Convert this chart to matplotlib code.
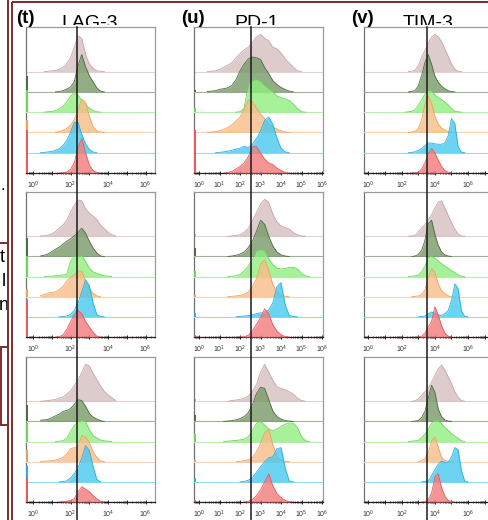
import numpy as np
import matplotlib
matplotlib.use('Agg')
import matplotlib.pyplot as plt
from matplotlib.lines import Line2D
from matplotlib.ticker import FixedLocator, FuncFormatter, NullFormatter
from matplotlib.transforms import Bbox, TransformedBbox, blended_transform_factory

plt.rcParams['font.family'] = ['Liberation Sans', 'DejaVu Sans']
plt.rcParams['mathtext.fontset'] = 'custom'
plt.rcParams['mathtext.rm'] = 'Liberation Sans'

W, H = 488, 520

# stacked histograms, listed top -> bottom
FILL_COLORS = ['#d6bec0', '#789a68', '#90ee80', '#f8bc88', '#48c8f0', '#f27a7a']
LINE_COLORS = ['#c6a5a8', '#4b6b3f', '#6ad65a', '#f0a060', '#28aee0', '#e85a5a']
BASE_COLORS = ['#e2d2d2', '#a3b09a', '#b4f0aa', '#f8d2b4', '#94dcf4', '#e85a5a']

MARKERS = ['LAG-3', 'PD-1', 'TIM-3']
LETTERS = ['(t)', '(u)', '(v)']
GATE_LOG = [2.34, 2.53, 3.54]   # log10 position of the vertical reference line

# bin centres, log10 of fluorescence
BINS_LAG3 = [0.4, 0.6, 0.8, 1.0, 1.2, 1.4, 1.6, 1.8, 2.0, 2.2, 2.4, 2.6, 2.8, 3.0,
             3.2, 3.4, 3.6, 3.8, 4.0, 4.2, 4.4]
BINS_PD1 = [0.4, 0.6, 0.8, 1.0, 1.2, 1.4, 1.6, 1.8, 2.0, 2.2, 2.4, 2.6, 2.8, 3.0,
            3.2, 3.4, 3.6, 3.8, 4.0, 4.2, 4.4, 4.6, 4.8, 5.0, 5.2, 5.4]
BINS_TIM3 = [2.2, 2.4, 2.6, 2.8, 3.0, 3.2, 3.4, 3.6, 3.8, 4.0, 4.2, 4.4, 4.6, 4.8,
             5.0, 5.2, 5.4, 5.6, 5.8, 6.0, 6.2]

# % of mode per bin, one list per histogram (top -> bottom)
LAG3_1 = [
    [0, 0, 1, 2, 3, 6, 10, 20, 34, 60, 88, 82, 42, 19, 8, 2, 1, 0, 0, 0, 0],
    [0, 0, 0, 0, 0, 1, 3, 7, 12, 25, 65, 92, 62, 40, 25, 10, 2, 0, 0, 0, 0],
    [0, 0, 1, 2, 4, 8, 15, 26, 39, 49, 42, 28, 18, 10, 4, 1, 0, 0, 0, 0, 0],
    [0, 0, 0, 0, 0, 2, 5, 10, 18, 32, 55, 82, 75, 40, 15, 4, 1, 0, 0, 0, 0],
    [0, 1, 2, 3, 6, 10, 18, 30, 50, 75, 75, 45, 22, 8, 2, 0, 0, 0, 0, 0, 0],
    [0, 0, 0, 0, 0, 0, 1, 2, 9, 25, 62, 85, 50, 20, 6, 1, 0, 0, 0, 0, 0],
]
LAG3_2 = [
    [1, 1, 3, 6, 12, 20, 28, 40, 60, 78, 90, 88, 68, 58, 50, 42, 28, 19, 10, 4, 1],
    [1, 3, 6, 12, 18, 23, 31, 38, 44, 51, 60, 70, 58, 38, 21, 9, 1, 0, 0, 0, 0],
    [0, 0, 1, 1, 2, 3, 4, 6, 38, 50, 51, 52, 38, 21, 12, 8, 5, 2, 1, 0, 0],
    [2, 6, 9, 11, 12, 18, 25, 39, 49, 54, 65, 62, 40, 20, 9, 2, 0, 0, 0, 0, 0],
    [0, 0, 0, 0, 0, 0, 1, 2, 6, 16, 35, 62, 92, 78, 35, 6, 1, 0, 0, 0, 0],
    [0, 0, 0, 0, 0, 1, 5, 19, 38, 55, 66, 58, 39, 25, 12, 2, 0, 0, 0, 0, 0],
]
LAG3_3 = [
    [0, 1, 2, 3, 5, 8, 11, 18, 26, 39, 52, 72, 92, 88, 69, 54, 38, 25, 16, 9, 2],
    [3, 4, 5, 9, 14, 18, 25, 27, 32, 42, 54, 52, 38, 20, 11, 6, 2, 0, 0, 0, 0],
    [0, 0, 0, 0, 0, 1, 2, 9, 25, 40, 50, 53, 49, 30, 15, 9, 4, 2, 1, 0, 0],
    [1, 1, 2, 3, 4, 7, 11, 19, 32, 35, 38, 65, 61, 48, 25, 11, 2, 0, 0, 0, 0],
    [0, 0, 0, 0, 0, 0, 1, 2, 10, 20, 35, 59, 90, 78, 39, 6, 0, 0, 0, 0, 0],
    [0, 0, 0, 0, 0, 0, 1, 2, 4, 8, 25, 38, 32, 26, 16, 8, 2, 0, 0, 0, 0],
]

PD1_1 = [
    [0, 1, 2, 5, 11, 16, 22, 34, 44, 54, 60, 72, 86, 92, 82, 76, 60, 56, 46, 32, 21, 11, 2, 0, 0, 0],
    [1, 2, 3, 6, 8, 10, 16, 30, 52, 69, 81, 86, 84, 80, 60, 45, 28, 18, 11, 6, 2, 0, 0, 0, 0, 0],
    [0, 0, 0, 0, 0, 0, 0, 0, 1, 10, 68, 78, 81, 76, 66, 58, 50, 40, 36, 33, 29, 20, 9, 1, 0, 0],
    [0, 1, 2, 4, 8, 12, 19, 28, 38, 58, 80, 75, 61, 46, 34, 21, 14, 8, 4, 1, 0, 0, 0, 0, 0, 0],
    [0, 0, 0, 1, 2, 4, 6, 9, 11, 16, 12, 21, 35, 54, 80, 88, 70, 36, 11, 2, 0, 0, 0, 0, 0, 0],
    [0, 0, 0, 0, 0, 1, 4, 10, 16, 25, 40, 65, 65, 49, 34, 25, 21, 12, 6, 2, 0, 0, 0, 0, 0, 0],
]
PD1_2 = [
    [0, 0, 0, 0, 0, 0, 1, 2, 4, 10, 20, 38, 59, 80, 92, 84, 55, 35, 26, 22, 18, 9, 4, 1, 0, 0],
    [0, 0, 0, 0, 0, 0, 1, 3, 6, 11, 22, 38, 62, 90, 80, 50, 26, 11, 4, 1, 0, 0, 0, 0, 0, 0],
    [0, 0, 0, 0, 0, 0, 1, 2, 5, 14, 26, 42, 64, 67, 64, 44, 30, 21, 19, 20, 23, 23, 19, 8, 2, 0],
    [0, 0, 0, 0, 0, 0, 1, 2, 3, 6, 12, 24, 45, 80, 91, 65, 30, 12, 5, 1, 0, 0, 0, 0, 0, 0],
    [0, 0, 0, 0, 0, 0, 0, 0, 1, 2, 3, 5, 8, 10, 9, 17, 35, 75, 85, 30, 4, 1, 0, 0, 0, 0],
    [0, 0, 0, 0, 0, 0, 0, 0, 0, 1, 4, 15, 31, 48, 70, 58, 30, 15, 6, 1, 0, 0, 0, 0, 0, 0],
]
PD1_3 = [
    [0, 0, 0, 0, 0, 0, 2, 3, 5, 8, 13, 24, 42, 72, 92, 72, 52, 36, 32, 29, 24, 18, 8, 2, 0, 0],
    [0, 0, 0, 0, 0, 1, 2, 4, 7, 12, 22, 41, 69, 85, 82, 54, 26, 12, 6, 2, 1, 0, 0, 0, 0, 0],
    [0, 0, 0, 0, 0, 1, 2, 3, 4, 6, 12, 28, 45, 50, 41, 31, 27, 31, 38, 43, 46, 46, 35, 12, 2, 0],
    [0, 0, 0, 0, 0, 0, 0, 0, 1, 2, 5, 10, 25, 45, 72, 81, 43, 14, 4, 1, 0, 0, 0, 0, 0, 0],
    [0, 0, 0, 0, 0, 0, 0, 0, 0, 1, 4, 10, 24, 38, 50, 60, 62, 82, 85, 35, 2, 0, 0, 0, 0, 0],
    [0, 0, 0, 0, 0, 0, 0, 0, 0, 0, 2, 6, 16, 30, 50, 70, 40, 21, 11, 4, 1, 0, 0, 0, 0, 0],
]

TIM3_1 = [
    [0, 0, 1, 3, 15, 35, 52, 70, 85, 92, 86, 74, 56, 38, 19, 6, 1, 0, 0, 0, 0],
    [0, 0, 1, 3, 15, 40, 73, 92, 68, 39, 24, 14, 8, 3, 1, 0, 0, 0, 0, 0, 0],
    [0, 1, 2, 6, 17, 30, 44, 55, 52, 42, 36, 31, 25, 18, 9, 2, 1, 0, 0, 0, 0],
    [0, 0, 1, 3, 10, 30, 70, 91, 72, 40, 21, 11, 6, 2, 0, 0, 0, 0, 0, 0, 0],
    [0, 0, 1, 2, 6, 10, 18, 24, 24, 22, 21, 21, 24, 42, 84, 72, 15, 1, 0, 0, 0],
    [0, 0, 0, 1, 2, 10, 25, 46, 61, 49, 32, 16, 6, 2, 0, 0, 0, 0, 0, 0, 0],
]
TIM3_2 = [
    [0, 0, 1, 2, 11, 21, 29, 40, 54, 70, 85, 88, 71, 52, 34, 18, 6, 1, 0, 0, 0],
    [0, 0, 0, 1, 5, 15, 40, 81, 90, 55, 28, 11, 4, 1, 0, 0, 0, 0, 0, 0, 0],
    [0, 0, 1, 2, 4, 12, 26, 46, 51, 45, 39, 32, 26, 21, 15, 10, 4, 1, 0, 0, 0],
    [0, 0, 0, 1, 2, 5, 17, 45, 70, 60, 32, 15, 8, 2, 0, 0, 0, 0, 0, 0, 0],
    [0, 0, 0, 0, 0, 1, 2, 8, 12, 9, 5, 4, 8, 16, 40, 82, 70, 15, 1, 0, 0],
    [0, 0, 0, 0, 0, 2, 10, 25, 39, 75, 55, 28, 10, 2, 0, 0, 0, 0, 0, 0, 0],
]
TIM3_3 = [
    [0, 0, 0, 1, 6, 15, 24, 32, 48, 64, 81, 90, 78, 61, 44, 24, 10, 2, 0, 0, 0],
    [0, 0, 0, 1, 2, 10, 25, 58, 90, 72, 31, 12, 4, 1, 0, 0, 0, 0, 0, 0, 0],
    [0, 0, 1, 2, 3, 10, 19, 31, 45, 52, 51, 44, 35, 28, 20, 14, 8, 2, 0, 0, 0],
    [0, 0, 0, 0, 0, 2, 8, 22, 51, 62, 36, 11, 3, 1, 0, 0, 0, 0, 0, 0, 0],
    [0, 0, 0, 0, 0, 0, 1, 2, 16, 30, 44, 52, 48, 49, 62, 85, 80, 28, 1, 0, 0],
    [0, 0, 0, 0, 0, 0, 1, 6, 22, 62, 70, 36, 14, 4, 1, 0, 0, 0, 0, 0, 0],
]

# events piled up at the lower axis limit (% of mode), per row
EDGE_LAG3 = [[0, 40, 55, 30, 45, 105], [0, 45, 50, 20, 45, 90], [0, 40, 45, 30, 40, 60]]
EDGE_PD1 = [[0, 5, 10, 5, 10, 105], [5, 20, 15, 5, 10, 5], [5, 15, 20, 5, 10, 5]]
EDGE_TIM3 = [[0, 0, 0, 0, 0, 0], [0, 0, 0, 0, 0, 0], [0, 0, 0, 0, 0, 0]]

COLUMNS = [
    (BINS_LAG3, [LAG3_1, LAG3_2, LAG3_3], EDGE_LAG3),
    (BINS_PD1, [PD1_1, PD1_2, PD1_3], EDGE_PD1),
    (BINS_TIM3, [TIM3_1, TIM3_2, TIM3_3], EDGE_TIM3),
]

# layout in pixels
COL_X = [(26, 155), (194, 323), (364, 493)]
ROW_Y = [(27, 173), (192, 337), (357, 502)]
XLIM_LOG = [(-0.37, 6.5), (-0.25, 6.05), (-0.27, 7.5)]
LABEL_STEP = [2, 1, 2]
TITLE_X = [90, 257, 428]
LETTER_X = [25.5, 192.5, 362.5]
PEAK = 2.0      # lane heights per 100 %
YTOP = 7.2
BROWN = '#7a2e2e'


def fx(px):
    return px / W


def fy(py):
    return 1 - py / H


def draw_panel(ax, bins, hists, edges, xlim, step):
    x = 10.0 ** np.array(bins)
    n = len(hists)
    for i, h in enumerate(hists):
        h = np.array(h, dtype=float)
        base = n - 1 - i
        y = base + h / 100 * PEAK
        z = 2 + i
        ax.axhline(base, color=BASE_COLORS[i], lw=0.8, zorder=z)
        ax.fill_between(x, base, y, color=FILL_COLORS[i], alpha=0.8, lw=0, zorder=z)
        keep = (h > 0) | (np.roll(h, 1) > 0) | (np.roll(h, -1) > 0)
        ax.plot(x, np.where(keep, y, np.nan), color=LINE_COLORS[i], lw=0.6, zorder=z)
        if edges[i]:
            xe = 10 ** (xlim[0] + 0.04)
            ax.plot([xe, xe], [base, base + edges[i] / 100 * PEAK], color=LINE_COLORS[i],
                    lw=1.4, zorder=z, solid_capstyle='butt')

    ax.set_xscale('log')
    ax.set_xlim(10 ** xlim[0], 10 ** xlim[1])
    ax.set_ylim(0, YTOP)
    ax.set_yticks([])
    decades = list(range(int(np.ceil(xlim[0])), int(np.floor(xlim[1])) + 1))
    minors = [k * 10.0 ** d for d in range(decades[0] - 1, decades[-1] + 1) for k in range(2, 10)
              if xlim[0] < np.log10(k * 10.0 ** d) < xlim[1]]
    ax.xaxis.set_major_locator(FixedLocator([10.0 ** d for d in decades]))
    ax.xaxis.set_minor_locator(FixedLocator(minors))
    ax.xaxis.set_minor_formatter(NullFormatter())

    def fmt(v, p):
        e = int(round(np.log10(v)))
        return r'$10^{%d}$' % e if e % step == 0 else ''
    ax.xaxis.set_major_formatter(FuncFormatter(fmt))
    ax.tick_params(axis='x', which='major', direction='inout', length=3.5, width=0.7,
                   labelsize=5, pad=3, color='#222222', labelcolor='#333333')
    ax.tick_params(axis='x', which='minor', direction='inout', length=2, width=0.5, color='#222222')
    for side in ['top', 'right', 'left']:
        ax.spines[side].set_color('#9a9a9a')
        ax.spines[side].set_linewidth(0.9)
    ax.spines['left'].set_color('#707070')
    ax.spines['bottom'].set_color('#202020')
    ax.spines['bottom'].set_linewidth(0.9)


fig = plt.figure(figsize=(W / 100, H / 100), dpi=100)

axes = []
for r in range(3):
    row = []
    for c in range(3):
        x0, x1 = COL_X[c]
        y0, y1 = ROW_Y[r]
        ax = fig.add_axes([fx(x0), fy(y1), (x1 - x0) / W, (y1 - y0) / H])
        bins, panels, edges = COLUMNS[c]
        draw_panel(ax, bins, panels[r], edges[r], XLIM_LOG[c], LABEL_STEP[c])
        row.append(ax)
    axes.append(row)

# vertical reference lines running through all three rows
for c in range(3):
    tr = blended_transform_factory(axes[0][c].transData, fig.transFigure)
    g = 10 ** GATE_LOG[c]
    fig.add_artist(Line2D([g, g], [fy(27), 0], transform=tr, color='#1a1a1a', lw=1.1, zorder=5))

# panel letters and marker titles (titles are slightly cut at the bottom)
clip = TransformedBbox(Bbox([[0, fy(25.3)], [1, 1]]), fig.transFigure)
for c in range(3):
    t = fig.text(fx(TITLE_X[c]), fy(27.5), MARKERS[c], fontsize=14, ha='center', va='baseline')
    t.set_clip_box(clip)
    t.set_clip_on(True)
    fig.text(fx(LETTER_X[c]), fy(23), LETTERS[c], fontsize=13.5, fontweight='bold',
             ha='center', va='baseline')


def fline(xs, ys, lw=1.4):
    fig.add_artist(Line2D([fx(v) for v in xs], [fy(v) for v in ys], transform=fig.transFigure,
                          color=BROWN, lw=lw, zorder=6, solid_capstyle='butt'))


# frames of the neighbouring panel (cut off at the left)
fline([8, 8], [0, 520])
fline([11.5, 11.5], [2, 520])
fline([11.5, 488], [2, 2])
fline([0, 8], [243, 243])
fline([0, 8], [347, 347])
fline([0.7, 0.7], [347, 425])
fline([0, 8], [425, 425])
fig.text(fx(1), fy(190), '.', fontsize=12, ha='left', va='baseline')
fig.text(fx(0), fy(262), 't', fontsize=13, ha='left', va='baseline')
fig.text(fx(1.5), fy(286), 'l', fontsize=13, ha='left', va='baseline')
fig.text(fx(-1.5), fy(310), 'n', fontsize=13, ha='left', va='baseline')

fig.savefig('out.png', dpi=100)
